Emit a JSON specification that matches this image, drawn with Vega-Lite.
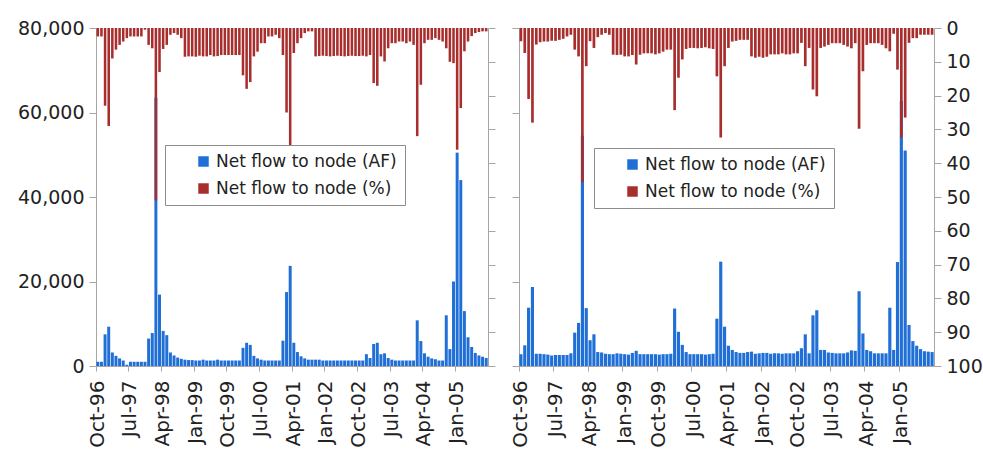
{
  "$schema": "https://vega.github.io/schema/vega-lite/v6.json",
  "padding": {"left": 17, "top": 19, "right": 0, "bottom": 0},
  "background": "white",
  "config": {
    "font": "DejaVu Sans",
    "view": {"stroke": null},
    "axis": {"grid": false, "domainColor": "#a6a6a6", "tickColor": "#a6a6a6", "labelColor": "#222222", "labelFont": "DejaVu Sans", "labelFontSize": 19},
    "legend": {"orient": "none", "title": null, "padding": 8, "strokeColor": "#8c8c8c", "fillColor": "white", "symbolType": "square", "symbolSize": 110, "symbolStrokeWidth": 0, "labelFontSize": 17, "labelFont": "DejaVu Sans", "labelColor": "#222222", "labelLimit": 400, "rowPadding": 9, "symbolOffset": 22}
  },
  "datasets": {
    "flow": [
      {"m":"Oct-96","afL":1000,"pL":2.5,"afR":2800,"pR":3.9},
      {"m":"Nov-96","afL":1000,"pL":2.5,"afR":4900,"pR":7.4},
      {"m":"Dec-96","afL":7500,"pL":23,"afR":13800,"pR":21},
      {"m":"Jan-97","afL":9300,"pL":29,"afR":18700,"pR":28},
      {"m":"Feb-97","afL":3200,"pL":9,"afR":2900,"pR":4.9},
      {"m":"Mar-97","afL":2400,"pL":6.4,"afR":2900,"pR":4.2},
      {"m":"Apr-97","afL":1800,"pL":5,"afR":2800,"pR":4},
      {"m":"May-97","afL":1300,"pL":4,"afR":2700,"pR":4},
      {"m":"Jun-97","afL":300,"pL":3,"afR":2500,"pR":3.8},
      {"m":"Jul-97","afL":1000,"pL":2.5,"afR":2600,"pR":3.8},
      {"m":"Aug-97","afL":1000,"pL":2.5,"afR":2600,"pR":3.5},
      {"m":"Sep-97","afL":1000,"pL":2.5,"afR":2600,"pR":3.2},
      {"m":"Oct-97","afL":1000,"pL":2.5,"afR":2600,"pR":2.5},
      {"m":"Nov-97","afL":1000,"pL":0.5,"afR":3000,"pR":2},
      {"m":"Dec-97","afL":6500,"pL":5,"afR":7900,"pR":6.4},
      {"m":"Jan-98","afL":7800,"pL":6,"afR":10200,"pR":8.4},
      {"m":"Feb-98","afL":63500,"pL":51,"afR":54500,"pR":45.6},
      {"m":"Mar-98","afL":16900,"pL":13,"afR":13700,"pR":11.3},
      {"m":"Apr-98","afL":8300,"pL":6.2,"afR":6100,"pR":3.9},
      {"m":"May-98","afL":7300,"pL":5,"afR":7500,"pR":5.9},
      {"m":"Jun-98","afL":3200,"pL":2,"afR":3300,"pR":2.7},
      {"m":"Jul-98","afL":2500,"pL":1.5,"afR":3200,"pR":2},
      {"m":"Aug-98","afL":2000,"pL":2,"afR":2900,"pR":1.5},
      {"m":"Sep-98","afL":1700,"pL":3,"afR":2800,"pR":2},
      {"m":"Oct-98","afL":1500,"pL":8.5,"afR":2800,"pR":7.9},
      {"m":"Nov-98","afL":1400,"pL":8.4,"afR":3000,"pR":8},
      {"m":"Dec-98","afL":1400,"pL":8.4,"afR":2900,"pR":7.9},
      {"m":"Jan-99","afL":1300,"pL":8.5,"afR":2800,"pR":8.4},
      {"m":"Feb-99","afL":1300,"pL":8.2,"afR":2700,"pR":8.4},
      {"m":"Mar-99","afL":1500,"pL":8.4,"afR":3100,"pR":8},
      {"m":"Apr-99","afL":1300,"pL":8.4,"afR":3600,"pR":10.8},
      {"m":"May-99","afL":1300,"pL":8,"afR":2800,"pR":7.9},
      {"m":"Jun-99","afL":1300,"pL":8.4,"afR":2800,"pR":7.5},
      {"m":"Jul-99","afL":1500,"pL":8.3,"afR":2800,"pR":7.5},
      {"m":"Aug-99","afL":1300,"pL":8,"afR":2800,"pR":7.5},
      {"m":"Sep-99","afL":1300,"pL":8,"afR":2800,"pR":7.8},
      {"m":"Oct-99","afL":1300,"pL":8,"afR":2700,"pR":7.5},
      {"m":"Nov-99","afL":1300,"pL":8,"afR":2800,"pR":7},
      {"m":"Dec-99","afL":1300,"pL":8,"afR":2800,"pR":6.4},
      {"m":"Jan-00","afL":1300,"pL":8,"afR":2900,"pR":6.4},
      {"m":"Feb-00","afL":4300,"pL":14,"afR":13600,"pR":24.3},
      {"m":"Mar-00","afL":5500,"pL":18,"afR":8100,"pR":14.7},
      {"m":"Apr-00","afL":5000,"pL":16,"afR":5000,"pR":9.3},
      {"m":"May-00","afL":2400,"pL":8.4,"afR":3300,"pR":6.2},
      {"m":"Jun-00","afL":1800,"pL":7,"afR":2800,"pR":5.9},
      {"m":"Jul-00","afL":1500,"pL":4.5,"afR":2800,"pR":5.9},
      {"m":"Aug-00","afL":1300,"pL":4.5,"afR":2800,"pR":6},
      {"m":"Sep-00","afL":1300,"pL":2.5,"afR":2800,"pR":5.9},
      {"m":"Oct-00","afL":1300,"pL":2.5,"afR":2700,"pR":5.7},
      {"m":"Nov-00","afL":1300,"pL":2,"afR":2800,"pR":6},
      {"m":"Dec-00","afL":1300,"pL":3,"afR":2900,"pR":6.2},
      {"m":"Jan-01","afL":6000,"pL":8,"afR":11200,"pR":14.3},
      {"m":"Feb-01","afL":17500,"pL":25,"afR":24700,"pR":32.4},
      {"m":"Mar-01","afL":23700,"pL":36,"afR":9300,"pR":11.3},
      {"m":"Apr-01","afL":5500,"pL":7.4,"afR":4800,"pR":5.9},
      {"m":"May-01","afL":3300,"pL":4.5,"afR":3800,"pR":4},
      {"m":"Jun-01","afL":2300,"pL":3,"afR":3300,"pR":3.8},
      {"m":"Jul-01","afL":1800,"pL":1.5,"afR":3100,"pR":3.5},
      {"m":"Aug-01","afL":1500,"pL":1,"afR":3100,"pR":3.5},
      {"m":"Sep-01","afL":1500,"pL":1,"afR":3300,"pR":3.5},
      {"m":"Oct-01","afL":1500,"pL":8.4,"afR":3400,"pR":8.4},
      {"m":"Nov-01","afL":1500,"pL":8.3,"afR":2900,"pR":8.8},
      {"m":"Dec-01","afL":1300,"pL":8.2,"afR":3000,"pR":8.5},
      {"m":"Jan-02","afL":1300,"pL":8.3,"afR":3100,"pR":8.8},
      {"m":"Feb-02","afL":1300,"pL":8.4,"afR":3100,"pR":8.5},
      {"m":"Mar-02","afL":1300,"pL":8.3,"afR":2900,"pR":7.8},
      {"m":"Apr-02","afL":1300,"pL":8.2,"afR":3000,"pR":7.8},
      {"m":"May-02","afL":1300,"pL":8.3,"afR":3000,"pR":7.8},
      {"m":"Jun-02","afL":1300,"pL":8.4,"afR":2900,"pR":7.5},
      {"m":"Jul-02","afL":1300,"pL":8.3,"afR":3000,"pR":7.8},
      {"m":"Aug-02","afL":1300,"pL":8.2,"afR":3000,"pR":7.8},
      {"m":"Sep-02","afL":1300,"pL":8.3,"afR":3000,"pR":7.5},
      {"m":"Oct-02","afL":1300,"pL":8.3,"afR":3500,"pR":7.5},
      {"m":"Nov-02","afL":1300,"pL":8.2,"afR":4200,"pR":4.4},
      {"m":"Dec-02","afL":2800,"pL":8.4,"afR":7500,"pR":11.3},
      {"m":"Jan-03","afL":1900,"pL":8,"afR":3000,"pR":5.9},
      {"m":"Feb-03","afL":5200,"pL":16.3,"afR":12000,"pR":18.2},
      {"m":"Mar-03","afL":5500,"pL":17.1,"afR":13200,"pR":20.2},
      {"m":"Apr-03","afL":2800,"pL":8.4,"afR":3800,"pR":5.9},
      {"m":"May-03","afL":3000,"pL":9.9,"afR":3800,"pR":5.5},
      {"m":"Jun-03","afL":1900,"pL":6,"afR":3200,"pR":5},
      {"m":"Jul-03","afL":1500,"pL":4.5,"afR":3100,"pR":4.5},
      {"m":"Aug-03","afL":1300,"pL":4.5,"afR":3000,"pR":4.5},
      {"m":"Sep-03","afL":1300,"pL":4,"afR":3000,"pR":4.5},
      {"m":"Oct-03","afL":1300,"pL":4,"afR":3000,"pR":5},
      {"m":"Nov-03","afL":1300,"pL":4.5,"afR":3200,"pR":5.5},
      {"m":"Dec-03","afL":1300,"pL":4,"afR":3700,"pR":6},
      {"m":"Jan-04","afL":1300,"pL":5,"afR":3600,"pR":4.5},
      {"m":"Feb-04","afL":10800,"pL":32,"afR":17700,"pR":29.8},
      {"m":"Mar-04","afL":5900,"pL":16.8,"afR":7700,"pR":12.8},
      {"m":"Apr-04","afL":3000,"pL":4.5,"afR":3800,"pR":5},
      {"m":"May-04","afL":2200,"pL":3.5,"afR":3500,"pR":4.5},
      {"m":"Jun-04","afL":1800,"pL":3.5,"afR":3000,"pR":4.5},
      {"m":"Jul-04","afL":1600,"pL":3,"afR":3000,"pR":4.5},
      {"m":"Aug-04","afL":1300,"pL":3.5,"afR":3000,"pR":5},
      {"m":"Sep-04","afL":1300,"pL":4,"afR":3000,"pR":6},
      {"m":"Oct-04","afL":12000,"pL":6,"afR":13800,"pR":6.9},
      {"m":"Nov-04","afL":4000,"pL":10,"afR":3800,"pR":1.7},
      {"m":"Dec-04","afL":20000,"pL":10.4,"afR":24600,"pR":12.3},
      {"m":"Jan-05","afL":50500,"pL":36,"afR":62700,"pR":32.4},
      {"m":"Feb-05","afL":44000,"pL":23.7,"afR":51000,"pR":26.5},
      {"m":"Mar-05","afL":13000,"pL":6.9,"afR":9700,"pR":4.4},
      {"m":"Apr-05","afL":6800,"pL":4,"afR":5900,"pR":3},
      {"m":"May-05","afL":4500,"pL":2.4,"afR":4800,"pR":3},
      {"m":"Jun-05","afL":3100,"pL":1.5,"afR":4000,"pR":2},
      {"m":"Jul-05","afL":2500,"pL":1.2,"afR":3500,"pR":2},
      {"m":"Aug-05","afL":2200,"pL":1,"afR":3400,"pR":2},
      {"m":"Sep-05","afL":1900,"pL":1,"afR":3300,"pR":2}
    ]
  },
  "data": {"name": "flow"},
  "spacing": 14,
  "resolve": {"scale": {"color": "independent"}, "legend": {"color": "independent"}},
  "hconcat": [
    {
      "width": 392,
      "height": 338,
      "resolve": {"scale": {"y": "independent"}},
      "layer": [
        {
          "mark": {"type": "bar", "width": {"band": 0.82}},
          "encoding": {
            "x": {"field": "m", "type": "ordinal", "sort": null, "title": null,
              "scale": {"paddingInner": 0, "paddingOuter": 0},
              "axis": {"values": ["Oct-96","Jul-97","Apr-98","Jan-99","Oct-99","Jul-00","Apr-01","Jan-02","Oct-02","Jul-03","Apr-04","Jan-05"], "labelAngle": -90, "bandPosition": 0, "tickSize": 5, "labelPadding": 9, "labelFontSize": 20, "labelOverlap": false}},
            "y": {"field": "afL", "type": "quantitative", "title": null,
              "scale": {"domain": [0, 80000]},
              "axis": {"values": [0, 20000, 40000, 60000, 80000], "format": ",.0f", "tickSize": 7, "labelPadding": 5}},
            "color": {"datum": "Net flow to node (AF)",
              "scale": {"domain": ["Net flow to node (AF)", "Net flow to node (%)"], "range": ["#1f6fd6", "#a82e2e"]},
              "legend": {"legendX": 69, "legendY": 117}}
          }
        },
        {
          "mark": {"type": "bar", "width": {"band": 0.7}},
          "encoding": {
            "x": {"field": "m", "type": "ordinal", "sort": null},
            "y": {"field": "pL", "type": "quantitative", "title": null,
              "scale": {"domain": [0, 100], "reverse": true},
              "axis": {"orient": "right", "values": [0,10,20,30,40,50,60,70,80,90,100], "labels": false, "tickSize": 7}},
            "color": {"datum": "Net flow to node (%)"}
          }
        }
      ]
    },
    {
      "width": 415,
      "height": 338,
      "resolve": {"scale": {"y": "independent"}},
      "layer": [
        {
          "mark": {"type": "bar", "width": {"band": 0.82}},
          "encoding": {
            "x": {"field": "m", "type": "ordinal", "sort": null, "title": null,
              "scale": {"paddingInner": 0, "paddingOuter": 0},
              "axis": {"values": ["Oct-96","Jul-97","Apr-98","Jan-99","Oct-99","Jul-00","Apr-01","Jan-02","Oct-02","Jul-03","Apr-04","Jan-05"], "labelAngle": -90, "bandPosition": 0, "tickSize": 5, "labelPadding": 9, "labelFontSize": 20, "labelOverlap": false}},
            "y": {"field": "afR", "type": "quantitative", "title": null,
              "scale": {"domain": [0, 80000]},
              "axis": {"values": [0, 20000, 40000, 60000, 80000], "labels": false, "tickSize": 7}},
            "color": {"datum": "Net flow to node (AF)",
              "scale": {"domain": ["Net flow to node (AF)", "Net flow to node (%)"], "range": ["#1f6fd6", "#a82e2e"]},
              "legend": {"legendX": 75, "legendY": 120}}
          }
        },
        {
          "mark": {"type": "bar", "width": {"band": 0.7}},
          "encoding": {
            "x": {"field": "m", "type": "ordinal", "sort": null},
            "y": {"field": "pR", "type": "quantitative", "title": null,
              "scale": {"domain": [0, 100], "reverse": true},
              "axis": {"orient": "right", "values": [0,10,20,30,40,50,60,70,80,90,100], "tickSize": 7, "labelPadding": 5}},
            "color": {"datum": "Net flow to node (%)"}
          }
        }
      ]
    }
  ]
}
